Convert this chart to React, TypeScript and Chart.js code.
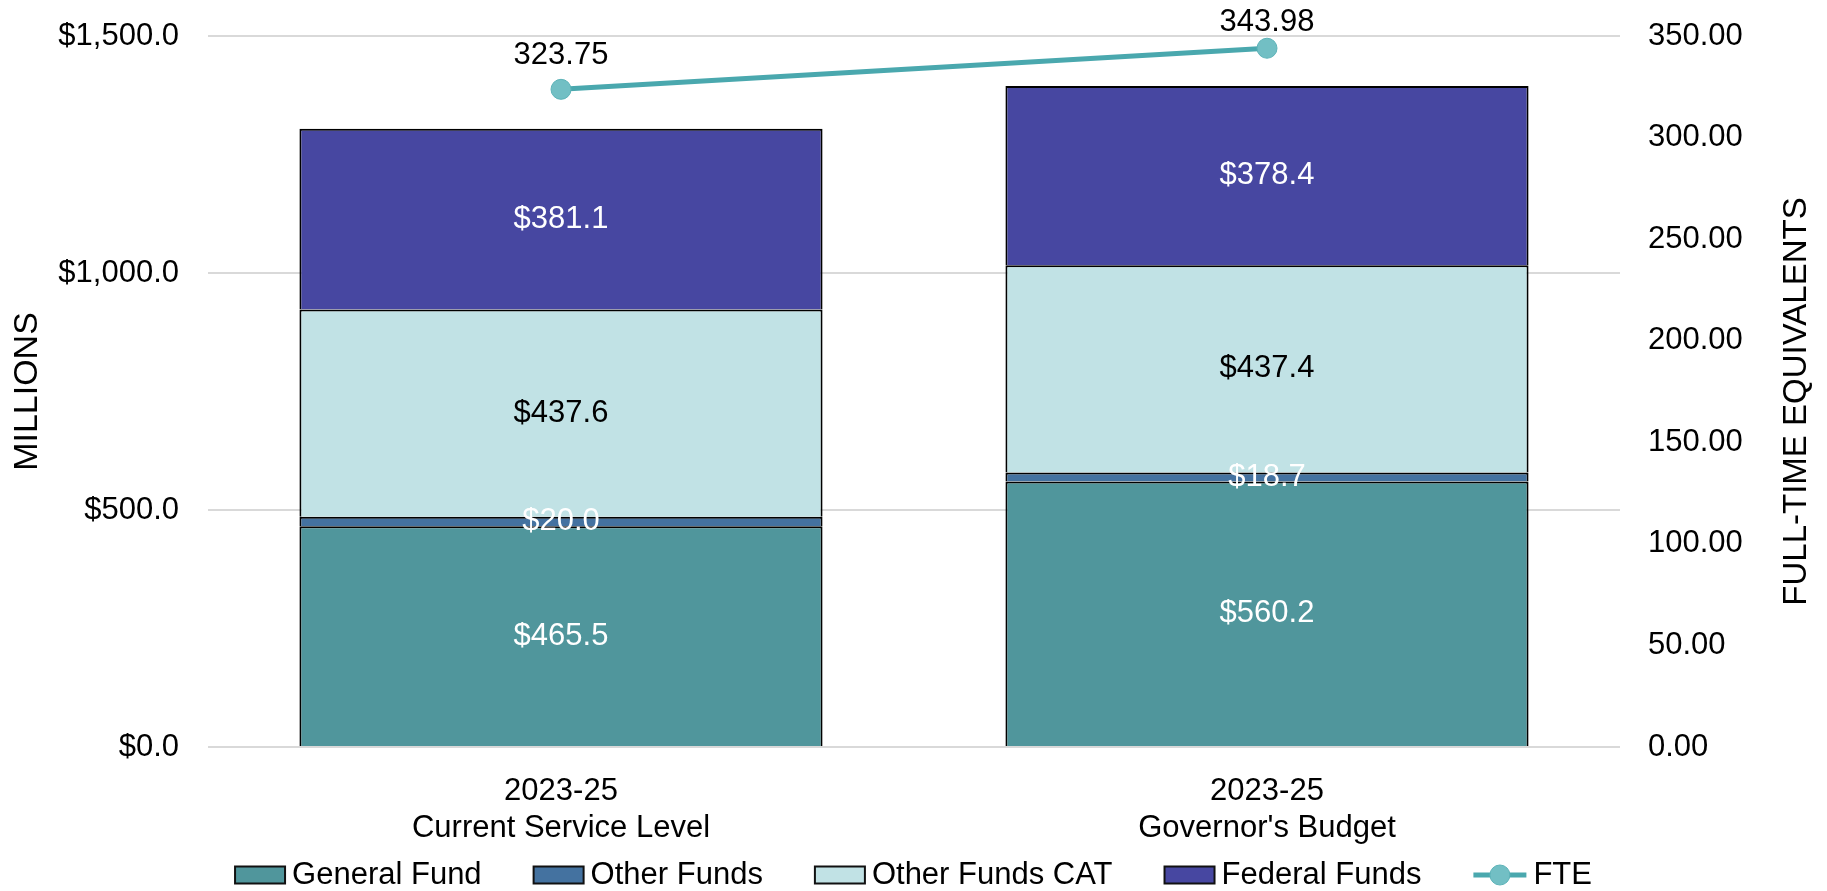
import React, { useEffect, useRef } from 'react';
import { Chart, registerables } from 'chart.js';

Chart.register(...registerables);

const FONT = '"Liberation Sans", Arial, Helvetica, sans-serif';

const categories = [
  ['2023-25', 'Current Service Level'],
  ['2023-25', "Governor's Budget"],
];
const seriesNames = ['General Fund', 'Other Funds', 'Other Funds CAT', 'Federal Funds'];
const generalFund = [465.5, 560.2];
const otherFunds = [20.0, 18.7];
const otherFundsCAT = [437.6, 437.4];
const federalFunds = [381.1, 378.4];
const fte = [323.75, 343.98];
const fteName = 'FTE';

const leftAxis = { min: 0, max: 1500, step: 500, title: 'MILLIONS' };
const rightAxis = { min: 0, max: 350, step: 50, title: 'FULL-TIME EQUIVALENTS' };

const barColors = ['#50969C', '#4472A0', '#C1E2E5', '#4747A1'];
const labelColors = ['#FFFFFF', '#FFFFFF', '#000000', '#FFFFFF'];
const lineColor = '#4AA8AE';
const pointFill = '#72BFC4';

const valueLabelPlugin = {
  id: 'valueLabels',
  afterDatasetsDraw(chart: any) {
    const ctx = chart.ctx;
    ctx.save();
    ctx.font = `31px ${FONT}`;
    ctx.textAlign = 'center';
    ctx.textBaseline = 'middle';
    chart.data.datasets.forEach((ds: any, di: number) => {
      const meta = chart.getDatasetMeta(di);
      meta.data.forEach((el: any, i: number) => {
        const v = ds.data[i];
        if (ds.type === 'line') {
          ctx.fillStyle = '#000';
          const ly = Math.max(el.y - 34, chart.chartArea.top - 14);
          ctx.fillText(v.toFixed(2), el.x, ly);
        } else {
          const p = el.getProps(['x', 'y', 'base'], true);
          ctx.fillStyle = ds.labelColor;
          ctx.fillText('$' + v.toFixed(1), p.x, (p.y + p.base) / 2);
        }
      });
    });
    ctx.restore();
  },
};

const rightTitlePlugin = {
  id: 'rightTitle',
  afterDraw(chart: any) {
    const ctx = chart.ctx;
    const s = chart.scales.y1;
    ctx.save();
    ctx.translate(s.right - 30.5, (chart.chartArea.top + chart.chartArea.bottom) / 2 + 10);
    ctx.rotate(-Math.PI / 2);
    ctx.font = `33px ${FONT}`;
    ctx.fillStyle = '#000';
    ctx.textAlign = 'center';
    ctx.textBaseline = 'middle';
    ctx.fillText(rightAxis.title, 0, 0);
    ctx.restore();
  },
};

const legendPlugin = {
  id: 'customLegend',
  afterDraw(chart: any) {
    const ctx = chart.ctx;
    ctx.save();
    ctx.font = `31px ${FONT}`;
    ctx.textBaseline = 'middle';
    ctx.textAlign = 'left';
    const boxW = 50;
    const boxH = 17;
    const lineW = 53;
    const gapText = 7;
    const gapItem = 52;
    const items = chart.data.datasets.map((ds: any) => {
      const sym = ds.type === 'line' ? lineW : boxW;
      const tw = ctx.measureText(ds.label).width;
      return { ds, sym, tw, w: sym + gapText + tw };
    });
    const total = items.reduce((a: number, it: any) => a + it.w, 0) + gapItem * (items.length - 1);
    let x = (chart.width - total) / 2;
    const y = chart.height - 16;
    items.forEach((it: any) => {
      const ds = it.ds;
      if (ds.type === 'line') {
        ctx.strokeStyle = ds.borderColor;
        ctx.lineWidth = 5;
        ctx.beginPath();
        ctx.moveTo(x, y);
        ctx.lineTo(x + lineW, y);
        ctx.stroke();
        ctx.beginPath();
        ctx.arc(x + lineW / 2, y, 10, 0, Math.PI * 2);
        ctx.fillStyle = ds.pointBackgroundColor;
        ctx.fill();
        ctx.lineWidth = 1;
        ctx.strokeStyle = ds.pointBorderColor;
        ctx.stroke();
      } else {
        ctx.fillStyle = ds.backgroundColor;
        ctx.fillRect(x, y - boxH / 2, boxW, boxH);
        ctx.strokeStyle = '#111';
        ctx.lineWidth = 2;
        ctx.strokeRect(x, y - boxH / 2, boxW, boxH);
      }
      ctx.fillStyle = '#000';
      ctx.fillText(ds.label, x + it.sym + gapText, y);
      x += it.w + gapItem;
    });
    ctx.restore();
  },
};

export default function App() {
  const ref = useRef<HTMLCanvasElement | null>(null);

  useEffect(() => {
    document.body.style.margin = '0';
    document.body.style.overflow = 'hidden';
    const canvas = ref.current!;
    const barSeries = [generalFund, otherFunds, otherFundsCAT, federalFunds];
    const datasets: any[] = barSeries.map((data, i) => ({
      type: 'bar',
      label: seriesNames[i],
      data,
      backgroundColor: barColors[i],
      borderColor: '#000',
      borderWidth: 2,
      labelColor: labelColors[i],
      yAxisID: 'y',
      stack: 'funds',
      order: 1,
      categoryPercentage: 1,
      barPercentage: 0.741,
    }));
    datasets.push({
      type: 'line',
      label: fteName,
      data: fte,
      borderColor: lineColor,
      borderWidth: 5,
      pointRadius: 10,
      pointBackgroundColor: pointFill,
      pointBorderColor: '#5DB3B8',
      pointBorderWidth: 1,
      yAxisID: 'y1',
      order: 0,
    });

    const chart = new Chart(canvas, {
      type: 'bar',
      data: { labels: categories as any, datasets },
      options: {
        animation: false,
        responsive: false,
        devicePixelRatio: 1,
        layout: { padding: { top: 36, bottom: 40, left: 0, right: 0 } },
        plugins: { legend: { display: false }, tooltip: { enabled: false } },
        scales: {
          x: {
            stacked: true,
            grid: { display: false },
            border: { display: false },
            ticks: { color: '#000', font: { family: FONT, size: 31 }, padding: 18, maxRotation: 0 },
            afterFit: (s: any) => { s.height = 104; s.paddingLeft = 0; s.paddingRight = 0; },
          },
          y: {
            stacked: true,
            position: 'left',
            min: leftAxis.min,
            max: leftAxis.max,
            grid: { color: '#D9D9D9', lineWidth: 2, drawTicks: false },
            border: { display: false },
            ticks: {
              stepSize: leftAxis.step,
              color: '#000',
              padding: 29,
              font: { family: FONT, size: 31 },
              callback: (v: any) =>
                '$' + Number(v).toLocaleString('en-US', { minimumFractionDigits: 1, maximumFractionDigits: 1 }),
            },
            title: {
              display: true,
              text: leftAxis.title,
              color: '#000',
              font: { family: FONT, size: 34 },
              padding: { top: 7, bottom: 0 },
            },
            afterFit: (s: any) => { s.width = 208; s.paddingTop = 0; s.paddingBottom = 0; },
          },
          y1: {
            position: 'right',
            min: rightAxis.min,
            max: rightAxis.max,
            grid: { display: false, drawTicks: false },
            border: { display: false },
            ticks: {
              stepSize: rightAxis.step,
              color: '#000',
              padding: 28,
              font: { family: FONT, size: 31 },
              callback: (v: any) => Number(v).toFixed(2),
            },
            afterFit: (s: any) => { s.width = 207; s.paddingTop = 0; s.paddingBottom = 0; },
          },
        },
      } as any,
      plugins: [valueLabelPlugin, rightTitlePlugin, legendPlugin],
    });
    return () => chart.destroy();
  }, []);

  return (
    <div style={{ width: 1827, height: 891, overflow: 'hidden' }}>
      <canvas ref={ref} width={1827} height={891} style={{ display: 'block' }} />
    </div>
  );
}
